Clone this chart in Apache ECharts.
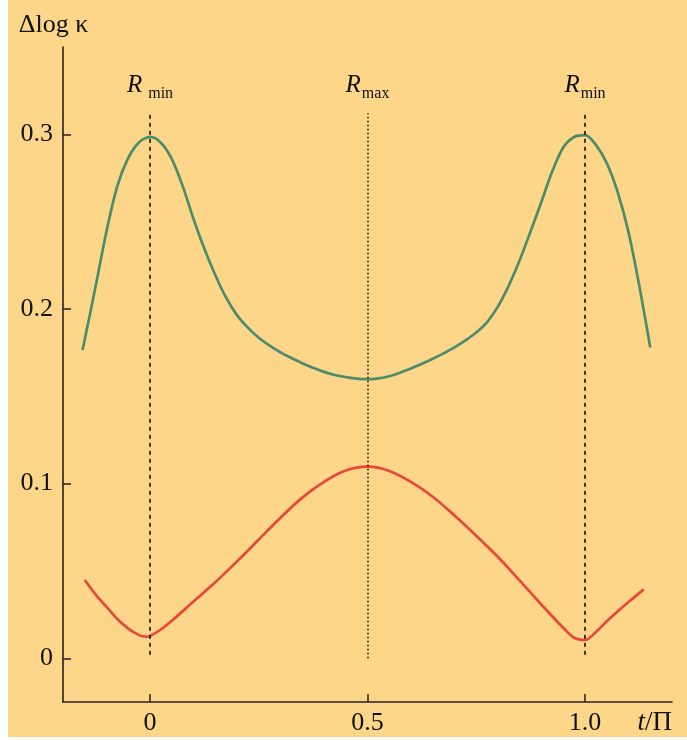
<!DOCTYPE html>
<html>
<head>
<meta charset="utf-8">
<script src="https://cdn.jsdelivr.net/npm/echarts@6/dist/echarts.min.js"></script>
<style>
html,body{margin:0;padding:0;background:#ffffff;}
#chart{width:687px;height:740px;}
</style>
</head>
<body>
<div id="chart"></div>
<script>
// ---- data ----
var greenT = [-0.155,-0.125,-0.1,-0.075,-0.05,-0.025,0,0.025,0.05,0.075,0.1,0.125,0.15,0.175,0.2,0.225,0.25,0.275,0.3,0.325,0.35,0.375,0.4,0.425,0.45,0.475,0.5,0.525,0.55,0.575,0.6,0.625,0.65,0.675,0.7,0.725,0.75,0.775,0.8,0.825,0.85,0.875,0.9,0.925,0.95,0.975,1.0,1.025,1.05,1.075,1.1,1.125,1.15];
var greenV = [0.1765,0.213,0.2445,0.2705,0.2865,0.2955,0.2985,0.2952,0.286,0.2705,0.2515,0.2345,0.2195,0.2065,0.1965,0.1893,0.1835,0.179,0.1752,0.1719,0.169,0.1663,0.164,0.1622,0.161,0.1601,0.1598,0.1603,0.1615,0.1635,0.166,0.1686,0.1715,0.1746,0.178,0.182,0.1865,0.1925,0.2015,0.2135,0.228,0.2445,0.2615,0.279,0.2925,0.2985,0.2995,0.294,0.2835,0.267,0.244,0.213,0.178];
var redT = [-0.15,-0.125,-0.1,-0.075,-0.05,-0.025,-0.01,0,0.025,0.05,0.1,0.15,0.2,0.25,0.3,0.35,0.4,0.45,0.5,0.55,0.6,0.65,0.7,0.75,0.8,0.85,0.9,0.95,0.975,1.0,1.025,1.05,1.1,1.135];
var redV = [0.0448,0.0365,0.0295,0.0225,0.017,0.0133,0.0124,0.0128,0.0165,0.0215,0.0325,0.0435,0.0555,0.068,0.0805,0.092,0.101,0.1075,0.1097,0.1073,0.101,0.0925,0.0818,0.0702,0.058,0.0445,0.0307,0.0175,0.0118,0.0105,0.015,0.0212,0.0322,0.0395];
var markerT = [0, 0.5, 1.0];
var markerTop = [0.312, 0.312, 0.312];
var markerBottom = [0.002, 0, 0.002];
var markerSub = ['min', 'max', 'min'];
var markerKind = ['dashed', 'dotted', 'dashed'];
var xTicks = [0, 0.5, 1.0];
var xTickLabels = ['0', '0.5', '1.0'];
var yTicks = [0, 0.1, 0.2, 0.3];
var yTickLabels = ['0', '0.1', '0.2', '0.3'];
var yTitle = 'Δlog κ';

// ---- chart ----
var serif = '"Liberation Serif","DejaVu Serif",serif';
function pairs(a, b) { return a.map(function (t, i) { return [t, b[i]]; }); }

var markData = markerT.map(function (t, i) {
  var dash = markerKind[i] === 'dashed' ? [4, 4] : [1.5, 2.5];
  return [
    { coord: [t, markerBottom[i]],
      lineStyle: { type: dash, color: '#111', width: 1.6 },
      label: {
        show: true, position: 'end', distance: 12,
        formatter: '{r|R}{s' + (i === 0 ? '1' : '') + '|' + markerSub[i] + '}',
        rich: {
          r: { fontFamily: serif, fontStyle: 'italic', fontSize: 25, color: '#111', verticalAlign: 'bottom', lineHeight: 26, padding: [0, 0, 3, 0] },
          s: { fontFamily: serif, fontSize: 16, color: '#111', verticalAlign: 'bottom', lineHeight: 18, padding: [0, 0, 0, 1] },
          s1: { fontFamily: serif, fontSize: 16, color: '#111', verticalAlign: 'bottom', lineHeight: 18, padding: [0, 0, 0, 6] }
        }
      }
    },
    { coord: [t, markerTop[i]] }
  ];
});

var chart = echarts.init(document.getElementById('chart'));
chart.setOption({
  backgroundColor: '#ffffff',
  animation: false,
  graphic: [{
    type: 'rect', z: -10, silent: true,
    shape: { x: 8, y: 0, width: 679, height: 737 },
    style: { fill: '#FDD68A' }
  }],
  grid: { left: 63, right: 15, top: 47, bottom: 38 },
  xAxis: {
    type: 'value', min: -0.2, max: 1.2,
    name: '{i|t}/Π', nameLocation: 'end', nameGap: 0,
    nameTextStyle: {
      align: 'right', verticalAlign: 'top', padding: [7, 0, 0, 0],
      fontFamily: serif, fontSize: 27, color: '#111',
      rich: { i: { fontFamily: serif, fontStyle: 'italic', fontSize: 27, color: '#111' } }
    },
    axisLine: { show: true, onZero: false, lineStyle: { color: '#222', width: 1.6 } },
    axisTick: { show: true, inside: true, length: 8, customValues: xTicks, lineStyle: { color: '#222', width: 1.5 } },
    axisLabel: {
      show: true, customValues: xTicks, margin: 8,
      fontFamily: serif, fontSize: 26, color: '#111',
      formatter: function (v) { var k = xTicks.indexOf(v); return k >= 0 ? xTickLabels[k] : ''; }
    },
    splitLine: { show: false }
  },
  yAxis: {
    type: 'value', min: -0.025, max: 0.35,
    name: yTitle, nameLocation: 'end', nameGap: 9,
    nameTextStyle: { fontFamily: serif, fontSize: 26, color: '#111', align: 'center', padding: [0, 19, 0, 0] },
    axisLine: { show: true, onZero: false, lineStyle: { color: '#222', width: 1.6 } },
    axisTick: { show: true, inside: true, length: 8, customValues: yTicks, lineStyle: { color: '#222', width: 1.5 } },
    axisLabel: {
      show: true, customValues: yTicks, margin: 10,
      fontFamily: serif, fontSize: 26, color: '#111',
      formatter: function (v) {
        for (var k = 0; k < yTicks.length; k++) { if (Math.abs(yTicks[k] - v) < 1e-9) return yTickLabels[k]; }
        return '';
      }
    },
    splitLine: { show: false }
  },
  series: [
    {
      type: 'line', data: pairs(greenT, greenV), smooth: 0.3, showSymbol: false,
      lineStyle: { color: '#4D8C69', width: 2.7 }, z: 3,
      markLine: { silent: true, symbol: ['none', 'none'], data: markData, animation: false }
    },
    {
      type: 'line', data: pairs(redT, redV), smooth: 0.3, showSymbol: false,
      lineStyle: { color: '#E8483A', width: 2.7 }, z: 3
    }
  ]
});
</script>
</body>
</html>
